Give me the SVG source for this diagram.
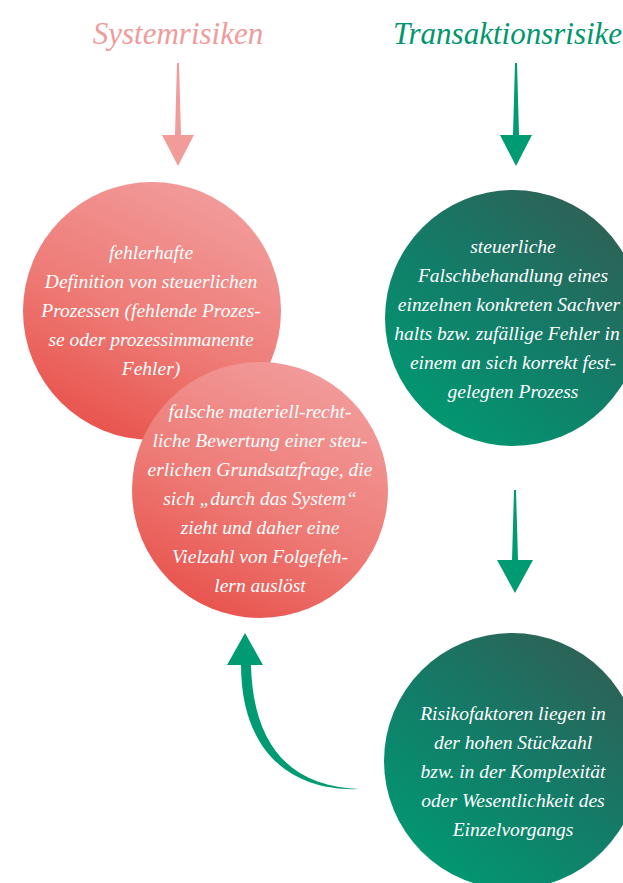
<svg xmlns="http://www.w3.org/2000/svg" width="623" height="883" viewBox="0 0 623 883">
<defs>
<linearGradient id="gPink" x1="0.75" y1="0" x2="0.25" y2="1">
<stop offset="0" stop-color="#f29e9e"/>
<stop offset="0.55" stop-color="#ee7b76"/>
<stop offset="1" stop-color="#e8504a"/>
</linearGradient>
<linearGradient id="gGreen" x1="0.85" y1="0.05" x2="0.15" y2="0.95">
<stop offset="0" stop-color="#305f55"/>
<stop offset="0.5" stop-color="#137c68"/>
<stop offset="1" stop-color="#009a72"/>
</linearGradient>
<style>
.title{font-family:"Liberation Serif",serif;font-style:italic;font-size:31px}
.body{font-family:"Liberation Serif",serif;font-style:italic;font-size:19.5px;fill:#ffffff;text-anchor:middle}
</style>
</defs>
<rect width="623" height="883" fill="#ffffff"/>
<g id="title-system"><text class="title" x="178" y="44" text-anchor="middle" fill="#f09b9b">Systemrisiken</text></g>
<g id="title-transaktion"><text class="title" x="393" y="44" fill="#00966e">Transaktionsrisike</text></g>
<g id="connectors">
<polygon points="177,63 179,63 181,135 194,135 178,166 162,135 175,135" fill="#f29b9b"/>
<polygon points="515,63 517,63 519,135 532,135 516,166 500,135 513,135" fill="#009b73"/>
<polygon points="514,490 516,490 518,560 533,560 515,593 497,560 512,560" fill="#009b73"/>
<path d="M245,633 L263,665 L251,665 C253,745 290,787 360,789 C285,792 241,745 241,665 L227,665 Z" fill="#009b73"/>
</g>
<g id="node-system1">
<circle cx="152" cy="311" r="129" fill="url(#gPink)"/>
<text class="body"><tspan x="151" y="259">fehlerhafte</tspan><tspan x="151" y="288">Definition von steuerlichen</tspan><tspan x="151" y="317">Prozessen (fehlende Prozes-</tspan><tspan x="151" y="346">se oder prozessimmanente</tspan><tspan x="151" y="375">Fehler)</tspan></text>
</g>
<g id="node-system2">
<circle cx="260" cy="490" r="128" fill="url(#gPink)"/>
<text class="body"><tspan x="260" y="418">falsche materiell-recht-</tspan><tspan x="260" y="447">liche Bewertung einer steu-</tspan><tspan x="260" y="476">erlichen Grundsatzfrage, die</tspan><tspan x="260" y="505">sich „durch das System“</tspan><tspan x="260" y="534">zieht und daher eine</tspan><tspan x="260" y="563">Vielzahl von Folgefeh-</tspan><tspan x="260" y="592">lern auslöst</tspan></text>
</g>
<g id="node-transaktion1">
<circle cx="513" cy="318" r="128" fill="url(#gGreen)"/>
<text class="body"><tspan x="513" y="253">steuerliche</tspan><tspan x="513" y="282">Falschbehandlung eines</tspan><tspan x="509" y="311">einzelnen konkreten Sachver</tspan><tspan x="507" y="340">halts bzw. zufällige Fehler in</tspan><tspan x="513" y="369">einem an sich korrekt fest-</tspan><tspan x="513" y="398">gelegten Prozess</tspan></text>
</g>
<g id="node-transaktion2">
<circle cx="512" cy="761" r="128" fill="url(#gGreen)"/>
<text class="body"><tspan x="513" y="720">Risikofaktoren liegen in</tspan><tspan x="513" y="749">der hohen Stückzahl</tspan><tspan x="513" y="778">bzw. in der Komplexität</tspan><tspan x="513" y="807">oder Wesentlichkeit des</tspan><tspan x="513" y="836">Einzelvorgangs</tspan></text>
</g>
</svg>
